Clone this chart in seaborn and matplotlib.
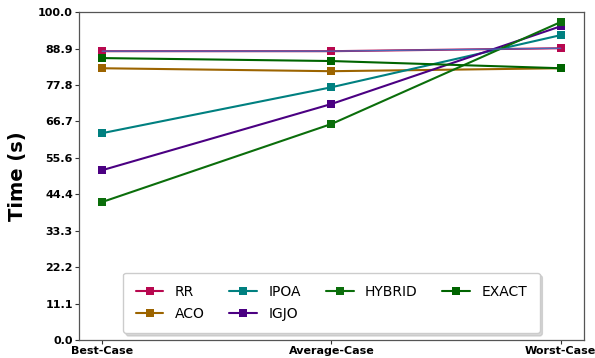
import matplotlib

matplotlib.use("Agg", force=True)
import matplotlib.pyplot as plt
import numpy as np
import pandas as pd
import seaborn as sns


CASES = ["Best-Case", "Average-Case", "Worst-Case"]

RR = [88.1, 88.1, 89.0]
ACO = [82.9, 82.0, 82.9]
IPOA = [63.1, 77.1, 93.0]
IGJO = [51.8, 72.0, 95.7]
HYBRID = [42.1, 65.9, 97.0]
EXACT = [86.0, 85.1, 82.9]

# faint bluish line that sits on top of the RR series in the original
RR_OVERLAY = [88.1, 88.1, 89.0]

ALGOS = ["RR", "ACO", "IPOA", "IGJO", "HYBRID", "EXACT"]
COLORS = {
    "RR": "#b8084f",
    "ACO": "#9c6400",
    "IPOA": "#008080",
    "IGJO": "#4b0082",
    "HYBRID": "#0b6e0b",
    "EXACT": "#006400",
}


def build_frame() -> pd.DataFrame:
    series = {"RR": RR, "ACO": ACO, "IPOA": IPOA, "IGJO": IGJO, "HYBRID": HYBRID, "EXACT": EXACT}
    rows = []
    for algo in ALGOS:
        for case, val in zip(CASES, series[algo]):
            rows.append({"case": case, "time": val, "algo": algo})
    return pd.DataFrame(rows)


def main() -> None:
    sns.set_theme(style="ticks")
    plt.rcParams["font.family"] = ["DejaVu Sans"]
    plt.rcParams["text.color"] = "black"
    plt.rcParams["axes.labelcolor"] = "black"

    df = build_frame()
    fig = plt.figure(figsize=(5.95, 3.58), dpi=100)
    ax = fig.add_axes([0.133, 0.05, 0.848, 0.916])

    sns.lineplot(
        data=df, x="case", y="time", hue="algo", hue_order=ALGOS, palette=COLORS,
        marker="s", markersize=5.5, markeredgewidth=0, linewidth=1.5, sort=False, ax=ax,
    )
    sns.lineplot(x=CASES, y=RR_OVERLAY, color="#4a6ab8", linewidth=0.9, sort=False, legend=False, ax=ax)

    ax.set_xlim(-0.1, 2.1)
    ax.set_ylim(0, 100)
    ax.set_yticks(np.linspace(0, 100, 10))
    ax.set_yticklabels([f"{v:.1f}" for v in np.linspace(0, 100, 10)])
    for lab in ax.get_xticklabels() + ax.get_yticklabels():
        lab.set_fontweight("bold")
        lab.set_fontsize(8)
        lab.set_color("black")
    ax.tick_params(axis="both", length=3, width=0.8, pad=1.5, colors="#333333", labelcolor="black")
    ax.set_xlabel("")
    ax.set_ylabel("Time (s)", fontsize=14, fontweight="bold", labelpad=8, color="black")
    for spine in ax.spines.values():
        spine.set_visible(True)
        spine.set_color("#555555")
        spine.set_linewidth(0.9)

    handles, labels = ax.get_legend_handles_labels()
    leg = ax.legend(
        handles[:6], labels[:6], ncol=4, loc="lower center", bbox_to_anchor=(0.5, 0.021),
        borderaxespad=0, fontsize=10, frameon=True, shadow={"ox": 2, "oy": -2, "color": "0.7"},
        fancybox=True, borderpad=0.9, columnspacing=1.8, handlelength=2.0, labelspacing=0.55,
    )
    for t in leg.get_texts():
        t.set_color("black")

    fig.savefig("out.png", dpi=100)
    plt.close(fig)


if __name__ == "__main__":
    main()
